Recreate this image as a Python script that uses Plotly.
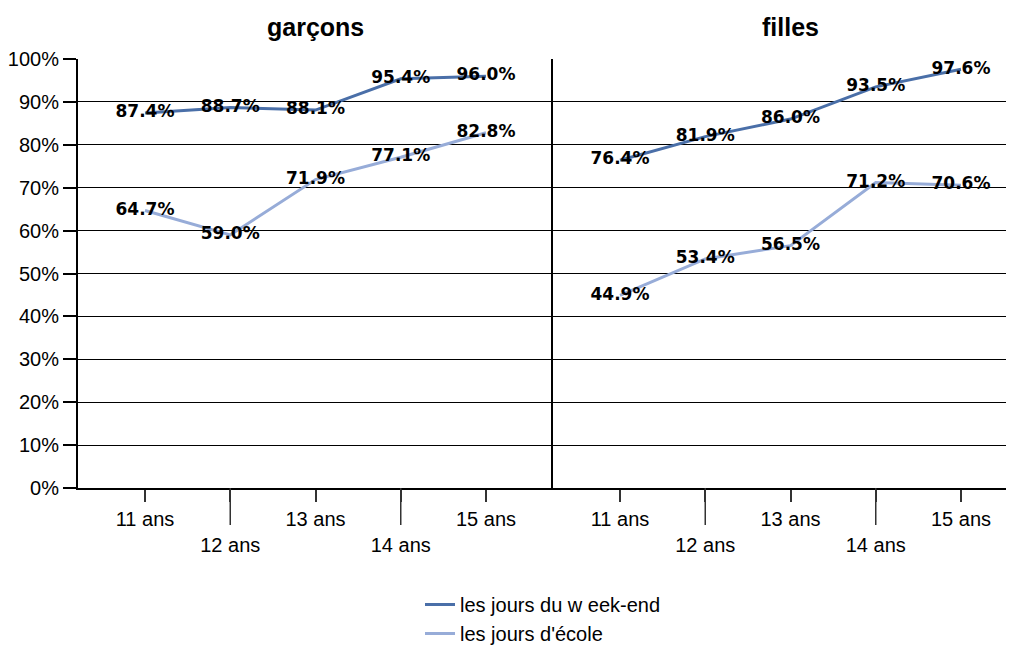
import plotly.graph_objects as go

ages = ["11 ans", "12 ans", "13 ans", "14 ans", "15 ans"]
tick_labels = ["11 ans", "<br>12 ans", "13 ans", "<br>14 ans", "15 ans"]
panels = ["garçons", "filles"]
series_names = ["les jours du w eek-end", "les jours d'école"]
y_ticks = list(range(0, 101, 10))
y_tick_labels = [f"{v}%" for v in y_ticks]

garcons_weekend = [87.4, 88.7, 88.1, 95.4, 96.0]
garcons_ecole = [64.7, 59.0, 71.9, 77.1, 82.8]
filles_weekend = [76.4, 81.9, 86.0, 93.5, 97.6]
filles_ecole = [44.9, 53.4, 56.5, 71.2, 70.6]

colors = ["#4A6FA8", "#97ACD8"]
xpos = list(range(len(ages)))

W, H = 1006, 640
L, T = 70, 51
plot_h = 429
B = H - T - plot_h
plot_w = W - L
split = 475 / plot_w

fig = go.Figure()

data = [[garcons_weekend, garcons_ecole], [filles_weekend, filles_ecole]]
for p, (xa, ya) in enumerate([("x", "y"), ("x2", "y2")]):
    for s, vals in enumerate(data[p]):
        fig.add_trace(go.Scatter(
            x=xpos, y=vals, xaxis=xa, yaxis=ya,
            mode="lines+text",
            name=series_names[s],
            showlegend=(p == 0),
            line=dict(color=colors[s], width=3),
            text=[f"{v:.1f}%" for v in vals],
            textposition="middle center",
            textfont=dict(family="DejaVu Sans", size=17, color="black", weight="bold"),
            cliponaxis=False,
        ))

label_font = dict(family="Liberation Sans, Arial", size=20, color="black")
xcommon = dict(
    tickmode="array", tickvals=xpos, ticktext=tick_labels, tickangle=0,
    ticks="outside", ticklen=12, tickwidth=1.5, tickcolor="#333",
    showline=True, linecolor="black", linewidth=2,
    showgrid=False, zeroline=False, tickfont=label_font, fixedrange=True,
    automargin=False,
)
off = 67 / 85.25
fig.update_layout(
    width=W, height=H,
    margin=dict(l=L, r=0, t=T, b=B, autoexpand=False),
    paper_bgcolor="white", plot_bgcolor="white",
    xaxis=dict(domain=[0, split], range=[-off, 4 + off], **xcommon),
    xaxis2=dict(domain=[split, 1], range=[-off, -off + (plot_w - 475) / 85.25], **xcommon),
    yaxis=dict(range=[0, 100], tickmode="array", tickvals=y_ticks, ticktext=y_tick_labels,
               ticks="outside", ticklen=13, tickwidth=2, tickcolor="black",
               showline=True, linecolor="black", linewidth=2,
               showgrid=True, gridcolor="black", gridwidth=1, zeroline=False,
               tickfont=label_font, automargin=False),
    yaxis2=dict(range=[0, 100], tickmode="array", tickvals=y_ticks, anchor="x2",
                showticklabels=False, ticks="",
                showline=True, linecolor="black", linewidth=2,
                showgrid=True, gridcolor="black", gridwidth=1, zeroline=False,
                automargin=False),
    legend=dict(xref="container", yref="container", x=412 / W, y=1 - 577 / H,
                xanchor="left", yanchor="top",
                font=dict(family="Liberation Sans, Arial", size=20, color="black"),
                bgcolor="rgba(0,0,0,0)", tracegroupgap=0),
    showlegend=True,
)

for p, xr in enumerate(["x", "x2"]):
    fig.add_annotation(x=2, xref=xr, y=1 + 32 / plot_h, yref="paper",
                       text=f"<b>{panels[p]}</b>", showarrow=False,
                       font=dict(family="Liberation Sans, Arial", size=25, color="black"),
                       yanchor="middle")
    for i in [1, 3]:
        fig.add_shape(type="line", xref=xr, yref="paper", x0=xpos[i], x1=xpos[i],
                      y0=0, y1=-37 / plot_h, line=dict(color="#333", width=1.5))

fig.write_html("out.html")
